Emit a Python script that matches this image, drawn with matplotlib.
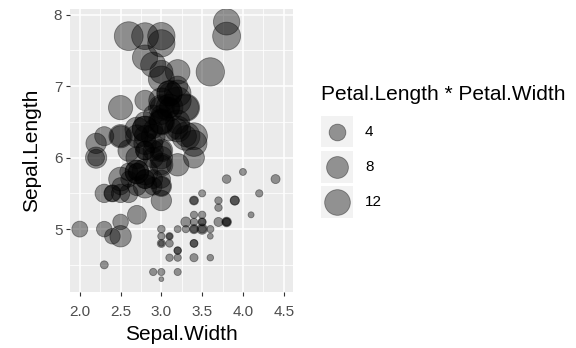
import numpy as np
import matplotlib
matplotlib.use("Agg")
import matplotlib.pyplot as plt
from matplotlib.patches import Rectangle

plt.rcParams['font.family'] = ['Liberation Sans', 'DejaVu Sans']

sepal_length = [5.1,4.9,4.7,4.6,5.0,5.4,4.6,5.0,4.4,4.9,5.4,4.8,4.8,4.3,5.8,5.7,5.4,5.1,5.7,5.1,
                5.4,5.1,4.6,5.1,4.8,5.0,5.0,5.2,5.2,4.7,4.8,5.4,5.2,5.5,4.9,5.0,5.5,4.9,4.4,5.1,
                5.0,4.5,4.4,5.0,5.1,4.8,5.1,4.6,5.3,5.0,
                7.0,6.4,6.9,5.5,6.5,5.7,6.3,4.9,6.6,5.2,5.0,5.9,6.0,6.1,5.6,6.7,5.6,5.8,6.2,5.6,
                5.9,6.1,6.3,6.1,6.4,6.6,6.8,6.7,6.0,5.7,5.5,5.5,5.8,6.0,5.4,6.0,6.7,6.3,5.6,5.5,
                5.5,6.1,5.8,5.0,5.6,5.7,5.7,6.2,5.1,5.7,
                6.3,5.8,7.1,6.3,6.5,7.6,4.9,7.3,6.7,7.2,6.5,6.4,6.8,5.7,5.8,6.4,6.5,7.7,7.7,6.0,
                6.9,5.6,7.7,6.3,6.7,7.2,6.2,6.1,6.4,7.2,7.4,7.9,6.4,6.3,6.1,7.7,6.3,6.4,6.0,6.9,
                6.7,6.9,5.8,6.8,6.7,6.7,6.3,6.5,6.2,5.9]
sepal_width = [3.5,3.0,3.2,3.1,3.6,3.9,3.4,3.4,2.9,3.1,3.7,3.4,3.0,3.0,4.0,4.4,3.9,3.5,3.8,3.8,
               3.4,3.7,3.6,3.3,3.4,3.0,3.4,3.5,3.4,3.2,3.1,3.4,4.1,4.2,3.1,3.2,3.5,3.6,3.0,3.4,
               3.5,2.3,3.2,3.5,3.8,3.0,3.8,3.2,3.7,3.3,
               3.2,3.2,3.1,2.3,2.8,2.8,3.3,2.4,2.9,2.7,2.0,3.0,2.2,2.9,2.9,3.1,3.0,2.7,2.2,2.5,
               3.2,2.8,2.5,2.8,2.9,3.0,2.8,3.0,2.9,2.6,2.4,2.4,2.7,2.7,3.0,3.4,3.1,2.3,3.0,2.5,
               2.6,3.0,2.6,2.3,2.7,3.0,2.9,2.9,2.5,2.8,
               3.3,2.7,3.0,2.9,3.0,3.0,2.5,2.9,2.5,3.6,3.2,2.7,3.0,2.5,2.8,3.2,3.0,3.8,2.6,2.2,
               3.2,2.8,2.8,2.7,3.3,3.2,2.8,3.0,2.8,3.0,2.8,3.8,2.8,2.8,2.6,3.0,3.4,3.1,3.0,3.1,
               3.1,3.1,2.7,3.2,3.3,3.0,2.5,3.0,3.4,3.0]
petal_length = [1.4,1.4,1.3,1.5,1.4,1.7,1.4,1.5,1.4,1.5,1.5,1.6,1.4,1.1,1.2,1.5,1.3,1.4,1.7,1.5,
                1.7,1.5,1.0,1.7,1.9,1.6,1.6,1.5,1.4,1.6,1.6,1.5,1.5,1.4,1.5,1.2,1.3,1.4,1.3,1.5,
                1.3,1.3,1.3,1.6,1.9,1.4,1.6,1.4,1.5,1.4,
                4.7,4.5,4.9,4.0,4.6,4.5,4.7,3.3,4.6,3.9,3.5,4.2,4.0,4.7,3.6,4.4,4.5,4.1,4.5,3.9,
                4.8,4.0,4.9,4.7,4.3,4.4,4.8,5.0,4.5,3.5,3.8,3.7,3.9,5.1,4.5,4.5,4.7,4.4,4.1,4.0,
                4.4,4.6,4.0,3.3,4.2,4.2,4.2,4.3,3.0,4.1,
                6.0,5.1,5.9,5.6,5.8,6.6,4.5,6.3,5.8,6.1,5.1,5.3,5.5,5.0,5.1,5.3,5.5,6.7,6.9,5.0,
                5.7,4.9,6.7,4.9,5.7,6.0,4.8,4.9,5.6,5.8,6.1,6.4,5.6,5.1,5.6,6.1,5.6,5.5,4.8,5.4,
                5.6,5.1,5.1,5.9,5.7,5.2,5.0,5.2,5.4,5.1]
petal_width = [0.2,0.2,0.2,0.2,0.2,0.4,0.3,0.2,0.2,0.1,0.2,0.2,0.1,0.1,0.2,0.4,0.4,0.3,0.3,0.3,
               0.2,0.4,0.2,0.5,0.2,0.2,0.4,0.2,0.2,0.2,0.2,0.4,0.1,0.2,0.2,0.2,0.2,0.1,0.2,0.2,
               0.3,0.3,0.2,0.6,0.4,0.3,0.2,0.2,0.2,0.2,
               1.4,1.5,1.5,1.3,1.5,1.3,1.6,1.0,1.3,1.4,1.0,1.5,1.0,1.4,1.3,1.4,1.5,1.0,1.5,1.1,
               1.8,1.3,1.5,1.2,1.3,1.4,1.4,1.7,1.5,1.0,1.1,1.0,1.2,1.6,1.5,1.6,1.5,1.3,1.3,1.3,
               1.2,1.4,1.2,1.0,1.3,1.2,1.3,1.3,1.1,1.3,
               2.5,1.9,2.1,1.8,2.2,2.1,1.7,1.8,1.8,2.5,2.0,1.9,2.1,2.0,2.4,2.3,1.8,2.2,2.3,1.5,
               2.3,2.0,2.0,1.8,2.1,1.8,1.8,1.8,2.1,1.6,1.9,2.0,2.2,1.5,1.4,2.3,2.4,1.8,1.8,2.1,
               2.4,2.3,1.9,2.3,2.5,2.3,1.9,2.0,2.3,1.8]

legend_breaks = [4, 8, 12]
x_ticks = [2.0, 2.5, 3.0, 3.5, 4.0, 4.5]
y_ticks = [5, 6, 7, 8]

W, H, DPI = 576, 348, 100
prod = np.array(petal_length) * np.array(petal_width)
vmin, vmax = prod.min(), prod.max()


def size_to_s(v):
    v = np.asarray(v, dtype=float)
    gg = 1 + 5 * np.sqrt(np.clip((v - vmin) / (vmax - vmin), 0, 1))
    d_px = 4.8 * gg
    d_pt = d_px * 72.0 / DPI
    return d_pt ** 2


fig = plt.figure(figsize=(W / DPI, H / DPI), dpi=DPI)
fig.patch.set_facecolor('white')


def px_axes(x0, y0, x1, y1):
    return fig.add_axes([x0 / W, 1 - y1 / H, (x1 - x0) / W, (y1 - y0) / H])


ax = px_axes(70, 9, 293.5, 292)
ax.set_facecolor('#ebebeb')
ax.scatter(sepal_width, sepal_length, s=size_to_s(prod),
           facecolors=(0, 0, 0, 0.4), edgecolors=(0, 0, 0, 0.4), linewidths=0.6, zorder=3)
ax.set_xlim(1.88, 4.62)
ax.set_ylim(4.12, 8.08)
ax.set_xticks(x_ticks)
ax.set_xticklabels([f"{t:.1f}" for t in x_ticks])
ax.set_yticks(y_ticks)
ax.set_yticklabels([str(t) for t in y_ticks])
ax.set_xticks([2.25, 2.75, 3.25, 3.75, 4.25], minor=True)
ax.set_yticks([4.5, 5.5, 6.5, 7.5], minor=True)
ax.grid(which='major', color='white', linewidth=1.1, zorder=0)
ax.grid(which='minor', color='white', linewidth=0.55, zorder=0)
ax.set_axisbelow(True)
for sp in ax.spines.values():
    sp.set_visible(False)
ax.tick_params(which='major', length=3, width=0.8, color='#333333', labelcolor='#4d4d4d',
               labelsize=11)
ax.tick_params(axis='x', which='major', pad=6)
ax.tick_params(axis='y', which='major', pad=2.5)
ax.tick_params(which='minor', length=0)
ax.set_xlabel('Sepal.Width', fontsize=15, labelpad=5)
ax.set_ylabel('Sepal.Length', fontsize=15, labelpad=9)

# legend
fig.text(320.7 / W, 1 - 95 / H, 'Petal.Length * Petal.Width', fontsize=15,
         ha='left', va='center')
lax = px_axes(320.7, 116, 352.7, 218.3)
lax.set_xlim(320.7, 352.7)
lax.set_ylim(218.3, 116)
lax.axis('off')
boxes = [(116, 147.3), (150.7, 182.7), (186, 218.3)]
for (y0, y1), b in zip(boxes, legend_breaks):
    lax.add_patch(Rectangle((320.7, y0), 32, y1 - y0, facecolor='#f2f2f2', edgecolor='none'))
    yc = (y0 + y1) / 2
    lax.scatter([336.7], [yc], s=size_to_s([b]), facecolors=(0, 0, 0, 0.4),
                edgecolors=(0, 0, 0, 0.4), linewidths=0.6, zorder=3)
    fig.text(365 / W, 1 - yc / H, str(b), fontsize=11, ha='left', va='center')

fig.savefig('out.png', dpi=DPI)
